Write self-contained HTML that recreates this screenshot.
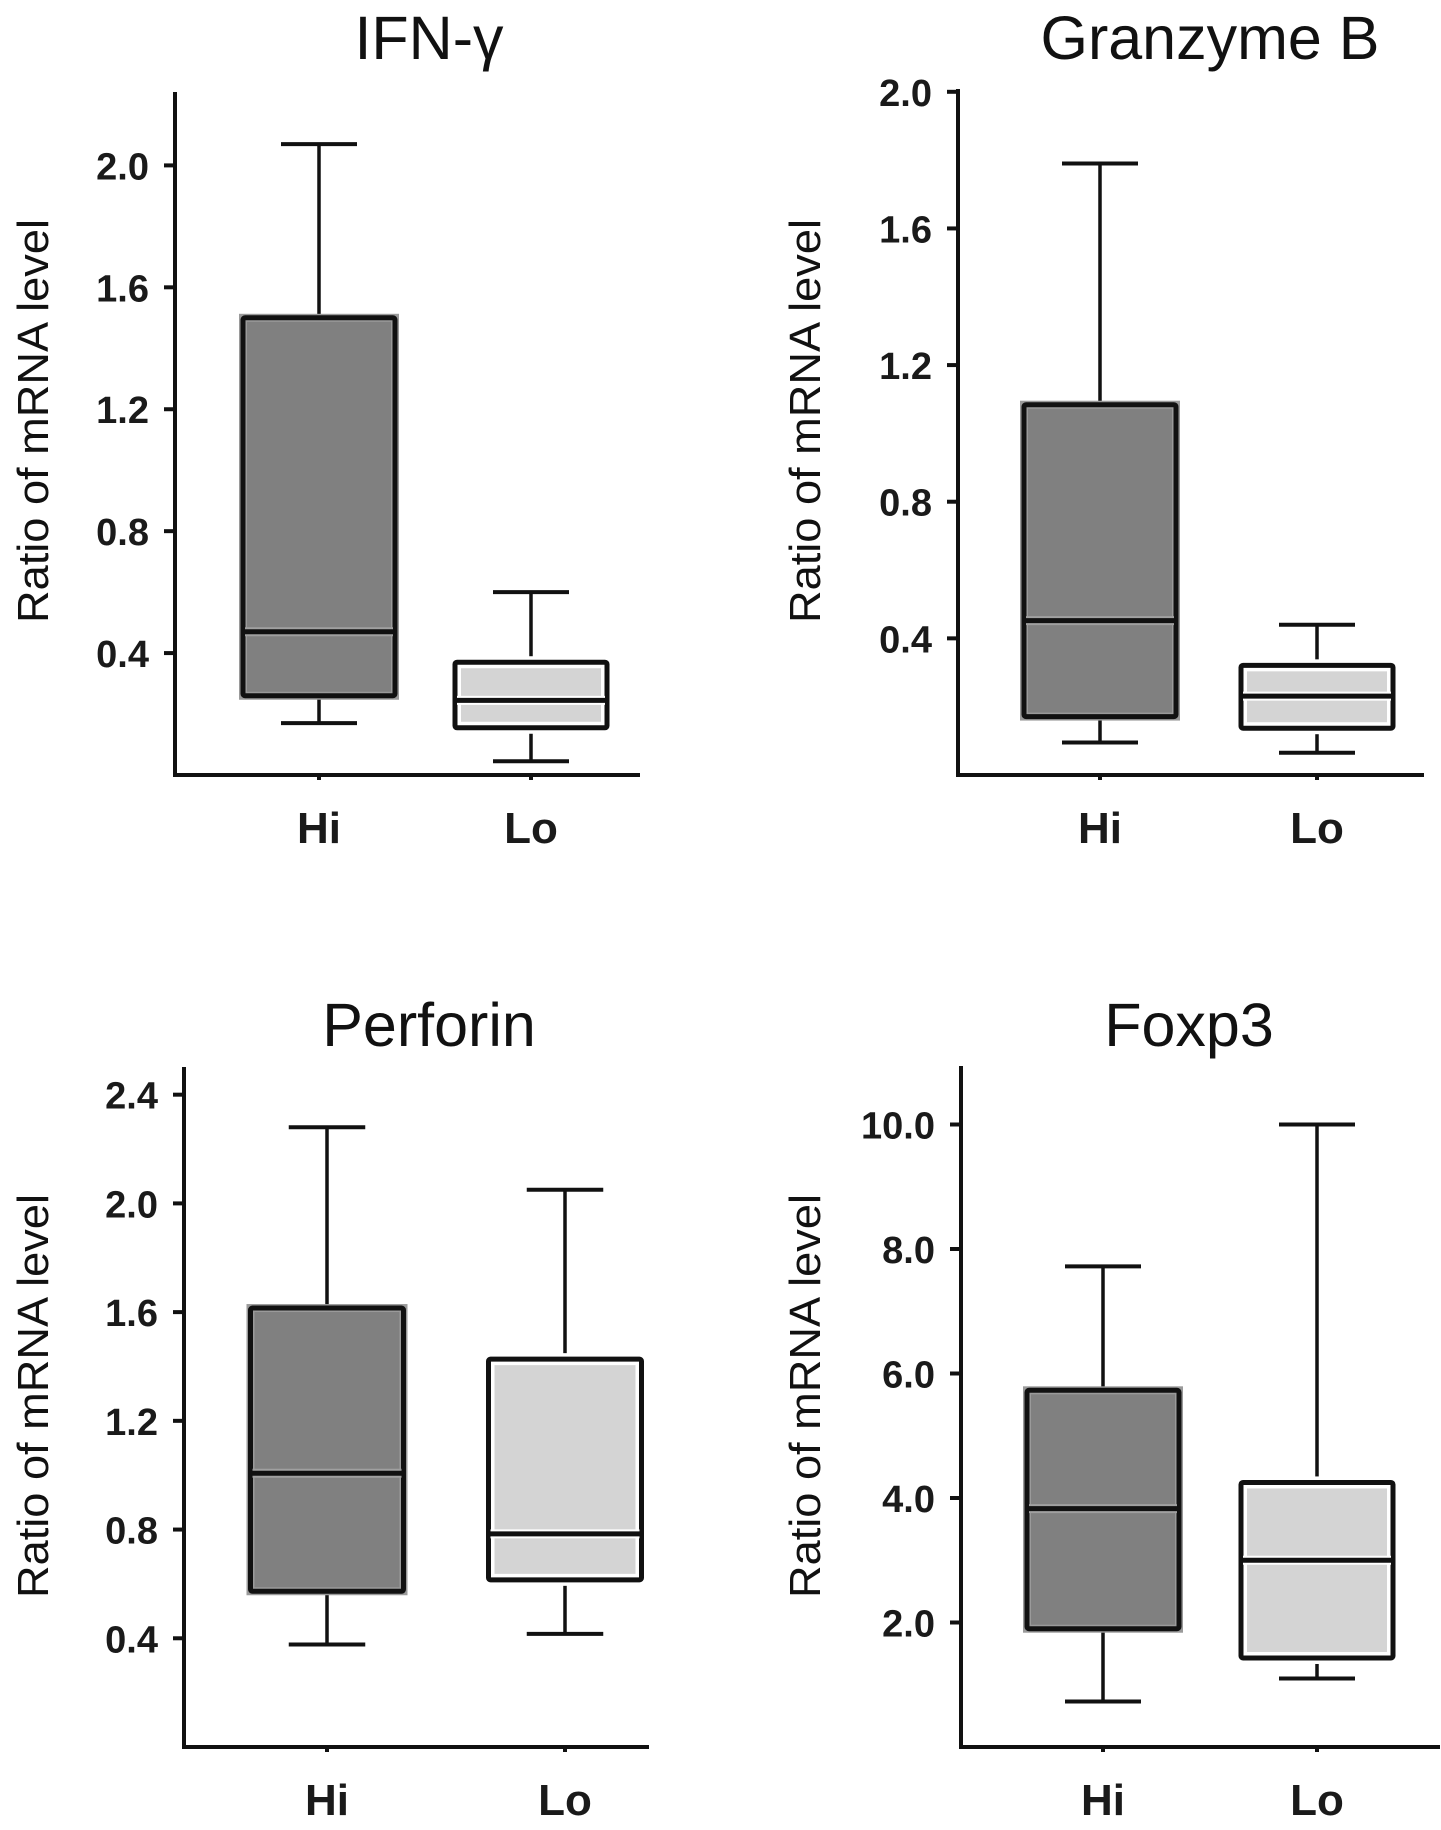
<!DOCTYPE html>
<html><head><meta charset="utf-8"><style>
html,body{margin:0;padding:0;background:#fff;}
svg{display:block;font-family:"Liberation Sans",Arial,sans-serif;}
</style></head><body>
<svg id="fig" width="1441" height="1830" viewBox="0 0 1441 1830" xmlns="http://www.w3.org/2000/svg"></svg>
<script>
const categories = ["Hi","Lo"];
const titles = ["IFN-γ","Granzyme B","Perforin","Foxp3"];
// [whiskerLow, Q1, median, Q3, whiskerHigh]
const ifnHi = [0.17, 0.26, 0.47, 1.50, 2.07];
const ifnLo = [0.045, 0.155, 0.245, 0.37, 0.60];
const gzbHi = [0.095, 0.171, 0.452, 1.084, 1.79];
const gzbLo = [0.065, 0.137, 0.231, 0.321, 0.44];
const prfHi = [0.377, 0.573, 1.007, 1.615, 2.28];
const prfLo = [0.416, 0.615, 0.784, 1.427, 2.05];
const foxHi = [0.73, 1.9, 3.83, 5.73, 7.72];
const foxLo = [1.1, 1.43, 3.0, 4.25, 10.0];
const ifnTicks = ["0.4","0.8","1.2","1.6","2.0"];
const gzbTicks = ["0.4","0.8","1.2","1.6","2.0"];
const prfTicks = ["0.4","0.8","1.2","1.6","2.0","2.4"];
const foxTicks = ["2.0","4.0","6.0","8.0","10.0"];

const layout = [
 {ax:175, top:92, base:775, right:640, scale:304.8, cx:[319,531], bw:152, tx:429, ty:59, ytx:32, yty:421},
 {ax:958, top:89, base:775, right:1424, scale:341.6, cx:[1100,1317], bw:152, tx:1210, ty:59, ytx:804, yty:421},
 {ax:184, top:1067, base:1747, right:649, scale:271.8, cx:[327,565], bw:153, tx:429, ty:1046, ytx:32, yty:1396},
 {ax:961, top:1066, base:1747, right:1440, scale:62.25, cx:[1103,1317], bw:152, tx:1189, ty:1046, ytx:804, yty:1396}
];
const data = [[ifnHi,ifnLo],[gzbHi,gzbLo],[prfHi,prfLo],[foxHi,foxLo]];
const ticks = [ifnTicks,gzbTicks,prfTicks,foxTicks];
const fills = ["#808080","#d4d4d4"];
const NS = "http://www.w3.org/2000/svg";
const svg = document.getElementById("fig");
function mk(tag, attrs, parent){
  const e = document.createElementNS(NS, tag);
  for (const k in attrs) e.setAttribute(k, attrs[k]);
  parent.appendChild(e); return e;
}
layout.forEach((L, p) => {
  const g = mk("g", {}, svg);
  
  
  const y = v => L.base - v * L.scale;
  const t = mk("text", {x:L.tx, y:L.ty, "text-anchor":"middle", "font-size":61, fill:"#111"}, g);
  t.textContent = titles[p];
  
  
  const yt = mk("text", {x:0, y:0, "text-anchor":"middle", "font-size":44, fill:"#111", textLength:404, lengthAdjust:"spacingAndGlyphs", transform:`translate(${L.ytx+16},${L.yty}) rotate(-90)`}, g);
  yt.textContent = "Ratio of mRNA level";
  
  
  const ya = mk("line", {x1:L.ax, y1:L.top, x2:L.ax, y2:L.base, stroke:"#111", "stroke-width":4}, g);
  
  
  const xa = mk("line", {x1:L.ax-2, y1:L.base, x2:L.right, y2:L.base, stroke:"#111", "stroke-width":4}, g);
  
  
  ticks[p].forEach(lbl => {
    const v = parseFloat(lbl), yy = y(v);
    const tk = mk("line", {x1:L.ax-11, y1:yy, x2:L.ax, y2:yy, stroke:"#111", "stroke-width":4}, g);
    
    
    const tl = mk("text", {x:L.ax-26, y:yy+14, "text-anchor":"end", "font-size":38, "font-weight":"bold", fill:"#1a1a1a"}, g);
    tl.textContent = lbl;
    
    
  });
  categories.forEach((c, i) => {
    const d = data[p][i], cx = L.cx[i], hw = L.bw/2, cap = L.bw/4;
    const bg = mk("g", {}, g);
    
    
    mk("line", {x1:cx, y1:y(d[4]), x2:cx, y2:y(d[3]), stroke:"#111", "stroke-width":3.5}, bg);
    mk("line", {x1:cx, y1:y(d[0]), x2:cx, y2:y(d[1]), stroke:"#111", "stroke-width":3.5}, bg);
    mk("line", {x1:cx-cap, y1:y(d[4]), x2:cx+cap, y2:y(d[4]), stroke:"#111", "stroke-width":4}, bg);
    mk("line", {x1:cx-cap, y1:y(d[0]), x2:cx+cap, y2:y(d[0]), stroke:"#111", "stroke-width":4}, bg);
    mk("rect", {x:cx-hw, y:y(d[3]), width:L.bw, height:y(d[1])-y(d[3]), fill:fills[i], stroke:i?"#fff":"#9a9a9a", "stroke-width":i?12:8}, bg);
    mk("rect", {x:cx-hw, y:y(d[3]), width:L.bw, height:y(d[1])-y(d[3]), fill:"none", stroke:"#111", "stroke-width":5, rx:2}, bg);
    mk("line", {x1:cx-hw+2, y1:y(d[2]), x2:cx+hw-2, y2:y(d[2]), stroke:i?"#fff":"#a0a0a0", "stroke-width":9}, bg);
    mk("line", {x1:cx-hw, y1:y(d[2]), x2:cx+hw, y2:y(d[2]), stroke:"#111", "stroke-width":5}, bg);
    mk("line", {x1:cx, y1:L.base, x2:cx, y2:L.base+5, stroke:"#111", "stroke-width":4}, bg);
    const xl = mk("text", {x:cx, y:L.base+68, "text-anchor":"middle", "font-size":44, "font-weight":"bold", fill:"#1a1a1a"}, g);
    xl.textContent = c;
    
    
  });
});
</script>
</body></html>
